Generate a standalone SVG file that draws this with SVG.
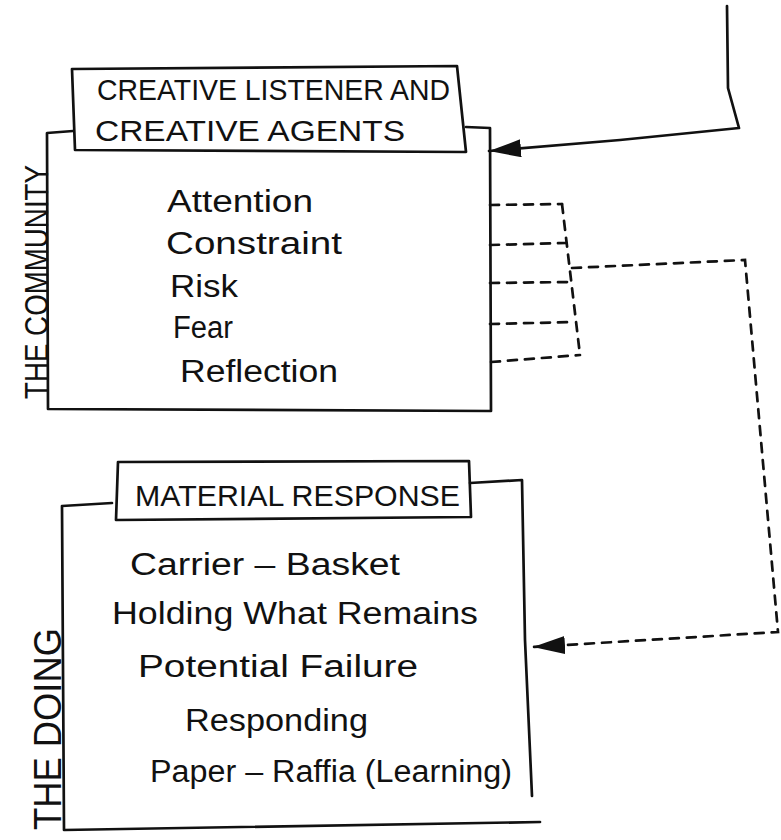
<svg xmlns="http://www.w3.org/2000/svg" width="781" height="840" viewBox="0 0 781 840">
<style>
.ln{fill:none;stroke:#111;stroke-width:2.7;stroke-linecap:round;stroke-linejoin:round}
.dash{fill:none;stroke:#111;stroke-width:2.7;stroke-dasharray:9 8;stroke-linecap:round}
.cap{font-family:"Liberation Sans",Arial,sans-serif;font-size:29px;fill:#111}
.txt{font-family:"Liberation Sans",Arial,sans-serif;font-size:31px;fill:#111}
</style>
<defs>
<marker id="ah" viewBox="0 0 10 10" refX="10" refY="5" markerUnits="userSpaceOnUse" markerWidth="32" markerHeight="18" orient="auto" preserveAspectRatio="none">
<path d="M0,0 L10,5 L0,10 z" fill="#111"/>
</marker>
</defs>
<rect width="781" height="840" fill="#fff"/>
<g id="community">
<path class="ln" d="M73,131 L47,133 L48,409 L491,411 L490,128 L466,127"/>
<path class="ln" d="M72,69 L457,66 L466,152 L75,150 Z"/>
<text class="cap" x="97" y="100" textLength="353" lengthAdjust="spacingAndGlyphs">CREATIVE LISTENER AND</text>
<text class="cap" x="95" y="141" textLength="310" lengthAdjust="spacingAndGlyphs">CREATIVE  AGENTS</text>
<text class="cap" transform="translate(48,399) rotate(-90)" textLength="234" lengthAdjust="spacingAndGlyphs" style="font-size:34px">THE  COMMUNITY</text>
<text class="txt" x="167" y="212" textLength="146" lengthAdjust="spacingAndGlyphs">Attention</text>
<text class="txt" x="166" y="254" textLength="176" lengthAdjust="spacingAndGlyphs">Constraint</text>
<text class="txt" x="170" y="297" textLength="68" lengthAdjust="spacingAndGlyphs">Risk</text>
<text class="txt" x="173" y="338" textLength="60" lengthAdjust="spacingAndGlyphs">Fear</text>
<text class="txt" x="180" y="382" textLength="158" lengthAdjust="spacingAndGlyphs">Reflection</text>
</g>
<g id="doing">
<path class="ln" d="M112,503 L62,506 L64,830 L540,822"/>
<path class="ln" d="M470,483 L522,480 L525,640 L532,796"/>
<path class="ln" d="M118,462 L469,461 L471,517 L116,520 Z"/>
<text class="cap" x="135" y="506" textLength="325" lengthAdjust="spacingAndGlyphs">MATERIAL RESPONSE</text>
<text class="cap" transform="translate(61,830) rotate(-90)" textLength="202" lengthAdjust="spacingAndGlyphs" style="font-size:38px">THE  DOING</text>
<text class="txt" x="130" y="575" textLength="270" lengthAdjust="spacingAndGlyphs">Carrier – Basket</text>
<text class="txt" x="112" y="624" textLength="366" lengthAdjust="spacingAndGlyphs">Holding What Remains</text>
<text class="txt" x="138" y="677" textLength="280" lengthAdjust="spacingAndGlyphs">Potential Failure</text>
<text class="txt" x="185" y="731" textLength="183" lengthAdjust="spacingAndGlyphs">Responding</text>
<text class="txt" x="150" y="782" textLength="362" lengthAdjust="spacingAndGlyphs">Paper – Raffia (Learning)</text>
</g>
<g id="connectors">
<path class="ln" d="M727,6 L728,88 L739,128 L620,140 L489,151" marker-end="url(#ah)"/>
<path class="dash" d="M490,205 L562,204"/>
<path class="dash" d="M490,245 L566,243"/>
<path class="dash" d="M490,283 L570,282"/>
<path class="dash" d="M490,324 L574,322"/>
<path class="dash" d="M491,362 L580,355"/>
<path class="dash" d="M562,204 L580,355"/>
<path class="dash" d="M572,268 L745,260 L778,632 L533,647" marker-end="url(#ah)"/>
</g>
</svg>
